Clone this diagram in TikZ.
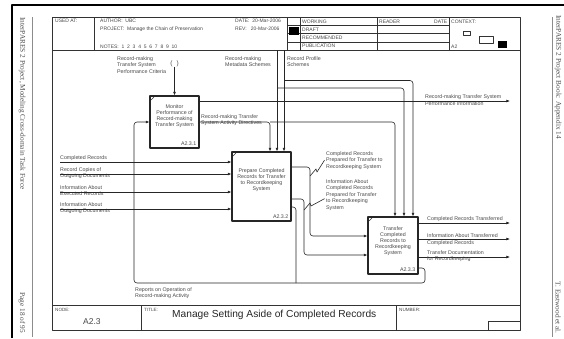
\documentclass[tikz,border=0pt]{standalone}
\usepackage{fontspec}
\setmainfont{Liberation Sans}
\newfontfamily\marginfont{Liberation Serif}
\usetikzlibrary{arrows.meta,positioning}

\tikzset{
  frameln/.style={draw=black!80, line width=0.6pt},
  flow/.style={draw=black!85, line width=0.6pt, rounded corners=3pt},
  arr/.style={flow, -{Latex[length=3.6pt,width=2.8pt]}},
  idefbox/.style={draw=black!85, line width=1.05pt},
  boxtxt/.style={align=center, font=\fontsize{5.3}{5.9}\selectfont},
  numtxt/.style={font=\fontsize{5.3}{6}\selectfont},
  lbl/.style={align=left, font=\fontsize{5.3}{6.5}\selectfont},
  hdr/.style={anchor=west, font=\fontsize{5}{6}\selectfont},
  margintxt/.style={font=\marginfont\fontsize{7.3}{8}\selectfont, text=black!70}
}

\begin{document}
\begin{tikzpicture}[x=1pt, y=-1pt, line join=round,
  every node/.style={inner sep=0pt, text=black!72}]
\useasboundingbox (0,0) rectangle (564,338);

% Seitenrand
\draw[line width=2pt] (12,338) -- (12,5) -- (564,5);
\draw[black!45, line width=0.5pt] (32,17) -- (32,337);
\draw[black!45, line width=0.5pt] (552,17) -- (552,337);
\node[margintxt, rotate=-90, anchor=west] (margin-lt) at (22,17) {InterPARES 2 Project, Modeling Cross-domain Task Force};
\node[margintxt, rotate=-90, anchor=east] (margin-lb) at (22,333) {Page 18 of 95};
\node[margintxt, rotate=-90, anchor=west] (margin-rt) at (558,15) {InterPARES 2 Project Book: Appendix 14};
\node[margintxt, rotate=-90, anchor=east] (margin-rb) at (558,334) {T. Eastwood et al.};

% Rahmen
\draw[frameln] (52,17) rectangle (520,330);
\draw[frameln] (52,50) -- (520,50);
\draw[frameln] (52,305) -- (520,305);
\foreach \x in {94,287,300,377,449}
  \draw[frameln] (\x,17) -- (\x,50);
\foreach \y in {25.3,33.6,41.9}
  \draw[frameln] (287,\y) -- (449,\y);
\draw[frameln] (141,305) -- (141,330);
\draw[frameln] (396,305) -- (396,330);
\draw[frameln] (488,330) -- (488,321) -- (520,321);
\fill[black] (289,26.5) rectangle (299,34.5);
\draw[frameln] (463,31) rectangle (470,35.5);
\draw[frameln] (479,36) rectangle (493,43);
\fill[black] (498,41) rectangle (507,47.5);

% Kopfzeile
\node[hdr] (usedat) at (55,20.5) {USED AT:};
\node[hdr] (author) at (100,20.5) {AUTHOR:\ \ UBC};
\node[hdr] (project) at (100,29) {PROJECT:\ \ Manage the Chain of Preservation};
\node[hdr] (notes) at (100,46.5) {NOTES:\ \ 1\ \ 2\ \ 3\ \ 4\ \ 5\ \ 6\ \ 7\ \ 8\ \ 9\ \ 10};
\node[hdr] (date) at (235,20.5) {DATE:\ \ 20-Mar-2006};
\node[hdr] (rev) at (235,29) {REV:\ \ \ 20-Mar-2006};
\node[hdr] (working) at (302,21.3) {WORKING};
\node[hdr] (draft) at (302,29.5) {DRAFT};
\node[hdr] (recom) at (302,37.8) {RECOMMENDED};
\node[hdr] (public) at (302,46) {PUBLICATION};
\node[hdr] (reader) at (379,21.3) {READER};
\node[hdr] (rdate) at (434,21.3) {DATE};
\node[hdr] (context) at (451,21.3) {CONTEXT:};
\node[hdr] (ctxnode) at (451,47) {A2};

% Fusszeile
\node[hdr, font=\fontsize{4.6}{5}\selectfont] (nodehd) at (55,309.5) {NODE:};
\node[hdr, font=\fontsize{4.6}{5}\selectfont] (titlehd) at (144,309.5) {TITLE:};
\node[hdr, font=\fontsize{4.6}{5}\selectfont] (numberhd) at (399,309.5) {NUMBER:};
\node[anchor=west, font=\fontsize{8.5}{10}\selectfont] (nodeno) at (83,322) {A2.3};
\node[anchor=west, font=\fontsize{10.2}{12}\selectfont, text=black!85] (title) at (172,314.5) {Manage Setting Aside of Completed Records};

% Aktivitaeten
\node[idefbox, minimum width=49pt, minimum height=52pt] (monitor) at (174.5,122) {};
\node[idefbox, minimum width=59pt, minimum height=69pt] (prepare) at (261.5,186.5) {};
\node[idefbox, minimum width=50pt, minimum height=57pt] (transfer) at (393,245.5) {};
\node[boxtxt] (monitor-t) at ([yshift=6pt]monitor.center) {Monitor\\Performance of\\Record-making\\Transfer System};
\node[boxtxt] (prepare-t) at ([yshift=6.5pt]prepare.center) {Prepare Completed\\Records for Transfer\\to Recordkeeping\\System};
\node[boxtxt] (transfer-t) at ([yshift=4.5pt]transfer.center) {Transfer\\Completed\\Records to\\Recordkeeping\\System};
\node[numtxt, anchor=south east] (monitor-n) at ([shift={(-3pt,2.5pt)}]monitor.south east) {A2.3.1};
\node[numtxt, anchor=south east] (prepare-n) at ([shift={(-3pt,2.5pt)}]prepare.south east) {A2.3.2};
\node[numtxt, anchor=south east] (transfer-n) at ([shift={(-3pt,2.5pt)}]transfer.south east) {A2.3.3};
\foreach \b in {monitor,prepare,transfer}
  \draw[black!80, line width=0.5pt] ([shift={(1.5pt,-4.5pt)}]\b.north west) -- ([shift={(4.5pt,-1.5pt)}]\b.north west);

% Steuerungen
\node[lbl, anchor=north west] (crit) at (117,56) {Record-making\\Transfer System\\Performance Criteria};
\node[font=\fontsize{6.5}{7}\selectfont] (tunnel) at (174.5,63.5) {(\hspace{4pt})};
\draw[arr] (tunnel.south -| monitor.north) -- (monitor.north);

\node[lbl, anchor=north west] (meta) at (225,56) {Record-making\\Metadata Schemes};
\node[lbl, anchor=north west] (profile) at (287,56) {Record Profile\\Schemes};
\coordinate (meta-in) at (277,50);
\coordinate (prof-in) at (284,50);
\draw[arr] (meta-in) -- (meta-in |- prepare.north);
\draw[arr] (prof-in) -- (prof-in |- prepare.north);
\draw[arr] (277,88) -- (404,88) -- (404,88 |- transfer.north);
\draw[arr] (284,80.5) -- (413,80.5) -- (413,80.5 |- transfer.north);

\node[lbl, anchor=north west] (directives) at (201,114) {Record-making Transfer\\System Activity Directives};
\coordinate (dir-split) at (270,122);
\draw[arr] (monitor.east) -- (dir-split) -- (dir-split |- prepare.north);
\draw[arr] (dir-split) -- (395,122) -- (395,122 |- transfer.north);

% Ausgaben Monitor
\coordinate (perf-end) at (510,101);
\draw[arr] (monitor.north east |- perf-end) -- (perf-end);
\node[lbl, anchor=north west] (perf) at (425,94.5) {Record-making Transfer System\\Performance Information};

% Eingaben
\node[lbl, anchor=south west] (in-a) at (60,160.5) {Completed Records};
\node[lbl, anchor=west] (in-b) at (60,173) {Record Copies of\\Outgoing Documents};
\node[lbl, anchor=west] (in-c) at (60,190.5) {Information About\\Executed Records};
\node[lbl, anchor=west] (in-d) at (60,208) {Information About\\Outgoing Documents};
\foreach \y/\n in {162/a,174/b,192/c,209/d}{
  \coordinate (src-\n) at (60,\y);
  \draw[arr] (src-\n) -- (src-\n -| prepare.west);
}

% Ausgaben Prepare
\draw[arr] (prepare.east |- 0,167) -- (310,167) -- (310,236) -- (transfer.west |- 0,236);
\draw[arr] (prepare.east |- 0,199) -- (304,199) -- (304,255) -- (transfer.west |- 0,255);
\draw[flow] (prepare.east |- 0,207) -- (296,207) -- (296,283);

\node[lbl, anchor=north west] (prep-a) at (326,151) {Completed Records\\Prepared for Transfer to\\Recordkeeping System};
\node[lbl, anchor=north west] (prep-b) at (326,179) {Information About\\Completed Records\\Prepared for Transfer\\to Recordkeeping\\System};
\coordinate (sq-a) at (310,176);
\coordinate (sq-b) at (304,210);
\draw[flow, rounded corners=0pt] (sq-a) -- ++(6,-7) -- ++(1,3) -- ([xshift=-1.5pt]prep-a.west);
\draw[flow, rounded corners=0pt] (sq-b) -- ++(6,-7) -- ++(1,3) -- ([shift={(-1.5pt,-4pt)}]prep-b.west);

% Ausgaben Transfer
\foreach \y/\n in {223/a,239/b,257/c}{
  \coordinate (out-\n) at (510,\y);
  \draw[arr] (out-\n -| transfer.east) -- (out-\n);
}
\node[lbl, anchor=south west] (tr-a) at (427,222) {Completed Records Transferred};
\node[lbl, anchor=west] (tr-b) at (427,239.5) {Information About Transferred\\Completed Records};
\node[lbl, anchor=west] (tr-c) at (427,256) {Transfer Documentation\\for Recordkeeping};

% Rueckkopplung
\draw[arr] (transfer.east |- 0,268) -- (425,268) -- (425,283) -- (134,283) -- (134,122) -- (monitor.west);
\node[lbl, anchor=north west] (reports) at (135,287) {Reports on Operation of\\Record-making Activity};

\end{tikzpicture}
\end{document}
